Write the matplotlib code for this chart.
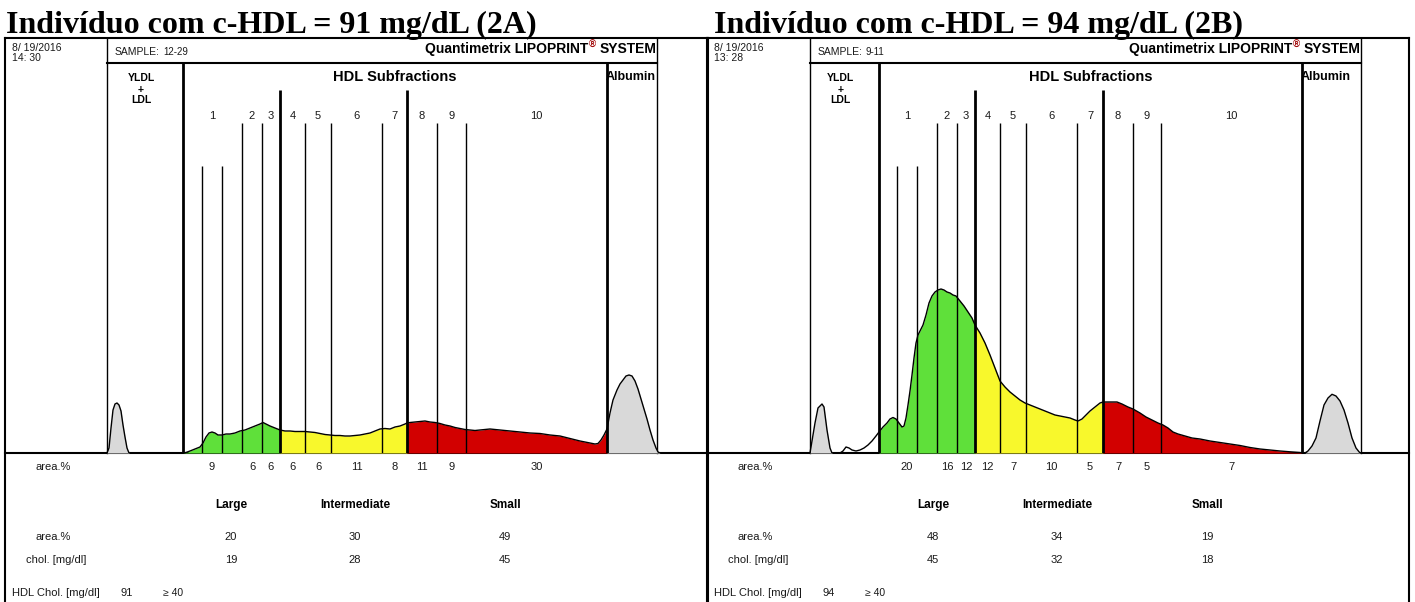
import matplotlib.pyplot as plt
from matplotlib.transforms import blended_transform_factory

W, H = 1415, 602

# Painel 2A
a_title = "Indivíduo com c-HDL = 91 mg/dL (2A)"
a_date = "8/ 19/2016\n14: 30"
a_sample = "12-29"
a_vldl_x = [102, 104, 106, 108, 110, 112, 114, 116, 118, 120, 122, 124]
a_vldl_y = [0, 5, 25, 43, 49, 50, 48, 42, 28, 16, 5, 0]
a_hdl_x = [178, 181, 185, 190, 195, 198, 201, 204, 207, 210, 213, 217, 221, 225, 230,
           235, 240, 245, 250, 255, 258, 261, 265, 270, 275, 280, 285, 290, 295, 300,
           305, 310, 315, 320, 325, 330, 335, 340, 345, 350, 355, 360, 365, 370, 375,
           380, 385, 390, 395, 400, 402, 405, 410, 415, 420, 425, 430, 435, 440, 445,
           450, 455, 460, 465, 470, 475, 480, 485, 490, 495, 505, 515, 525, 535, 545,
           555, 565, 575, 585, 590, 593, 596, 599, 602]
a_hdl_y = [0, 0.5, 2, 4, 6, 10, 16, 20, 21, 20, 18, 18, 19, 19, 20,
           22, 23, 25, 27, 29, 30.5, 29, 27, 25, 23, 22, 22, 21.5, 21.5, 21.5,
           21, 20.5, 19.5, 18.5, 18, 17.5, 17.5, 17, 17, 17.5, 18, 19, 20, 22, 24,
           24.5, 24, 26, 27, 29, 30, 30.5, 31, 31.5, 32, 31, 30.5, 29.5, 28, 27,
           25.5, 24.5, 23.5, 23, 22.5, 23, 23.5, 24, 23.5, 23, 22, 21, 20, 19.5, 18,
           17, 14.5, 12, 10, 9, 9.5, 13, 18, 24]
a_alb_x = [602, 605, 608, 612, 615, 618, 621, 624, 627, 630, 633, 636, 639, 642, 645,
           648, 651, 653, 655]
a_alb_y = [24, 40, 53, 63, 69, 73, 77, 78, 77, 72, 64, 54, 44, 34, 23, 13, 5, 1, 0]
a_bounds = [178, 197, 217, 237, 257, 275, 300, 326, 377, 402, 432, 461, 602]
a_area = [9, 6, 6, 6, 6, 11, 8, 11, 9, 30]
a_grp_area = [20, 30, 49]
a_grp_chol = [19, 28, 45]
a_hdl_chol = 91

# Painel 2B
b_title = "Indivíduo com c-HDL = 94 mg/dL (2B)"
b_date = "8/ 19/2016\n13: 28"
b_sample = "9-11"
b_vldl_x = [103, 108, 111, 115, 117, 120, 123, 125]
b_vldl_y = [0, 30, 45, 49, 46, 23, 5, 0]
b_hdl_x = [125, 133, 136, 139, 142, 145, 149, 153, 157, 161, 165, 169, 172,
           176, 180, 183, 186, 189, 192, 195, 197, 199, 201, 203, 205, 207, 209,
           211, 213, 216, 219, 222, 225, 228, 231, 234, 237, 240, 243, 246, 249,
           253, 257, 261, 265, 268,
           273, 278, 283, 288, 293, 298, 303, 308, 313, 318, 323, 328, 333, 338,
           343, 348, 353, 358, 363, 368, 371, 375, 379, 383, 388, 393, 396,
           403, 410, 415, 421, 426, 433, 439, 445, 451, 456, 461, 466, 471, 478,
           485, 493, 503, 513, 523, 533, 543, 553, 563, 573, 583, 593, 595]
b_hdl_y = [0, 0, 2, 6, 5, 3, 2, 3, 5, 8, 12, 17, 21,
           26, 30, 34, 35.5, 34, 30, 26, 27, 35, 48, 62, 78, 95, 110,
           118, 122, 128, 138, 150, 157, 161, 163, 164, 163, 161, 160, 158, 157,
           152, 147, 141, 135, 128,
           120, 110, 98, 85, 72, 66, 61, 57, 53, 50, 48, 46, 44, 42,
           40, 38, 37, 36, 35, 33, 32, 34, 38, 42, 46, 50, 51,
           51, 51, 49, 46, 44, 40, 36, 33, 30, 28, 25, 21, 19, 17,
           15, 14, 12, 10.5, 9, 7.5, 5.5, 4, 3, 2, 1.2, 0.5, 0]
b_alb_x = [598, 601, 605, 609, 613, 617, 621, 625, 629, 633, 637, 641, 645, 649, 653]
b_alb_y = [0, 2, 7, 15, 32, 48, 55, 58.7, 57, 52, 43, 30, 15, 5, 0]
b_bounds = [172, 190, 210, 230, 250, 268, 293, 319, 370, 396, 426, 454, 595]
b_area = [20, 16, 12, 12, 7, 10, 5, 7, 5, 7]
b_grp_area = [48, 34, 19]
b_grp_chol = [45, 32, 18]
b_hdl_chol = 94

subfractions = ["1", "2", "3", "4", "5", "6", "7", "8", "9", "10"]
groups = ["Large", "Intermediate", "Small"]
hdl_ref = "≥ 40"

# indices das linhas que delimitam cada subfracao e cada grupo
band_idx = [(1, 2), (3, 4), (4, 5), (5, 6), (6, 7), (7, 8), (8, 9), (9, 10), (10, 11), (11, 12)]
group_idx = [(0, 5), (5, 9), (9, 12)]
group_colors = ["#5fe03a", "#f8f82c", "#d20000"]
gray = "#d9d9d9"
line_tops = [390, 287, 287, 330, 330, 363, 330, 330, 330, 363, 330, 330, 390]
line_w = [2, 1, 1, 1, 1, 2, 1, 1, 1, 2, 1, 1, 2]

sans = "Liberation Sans"
txt = "#1a1a1a"

fig = plt.figure(figsize=(W / 100, H / 100), dpi=100, facecolor="white")
ov = fig.add_axes([0, 0, 1, 1])
ov.set_xlim(0, W)
ov.set_ylim(H, 0)
ov.axis("off")


def draw_panel(ox, title_x, date_col, box_right, frame_right, title, date, sample,
               vx, vy, hx, hy, alx, aly, bounds, area, g_area, g_chol, hdl_chol):
    # moldura e cabecalho
    ov.plot([ox, frame_right], [38, 38], color="k", lw=1.5)
    ov.plot([ox, ox], [38, 602], color="k", lw=1.5)
    ov.plot([frame_right, frame_right], [38, 602], color="k", lw=1.5)
    ov.plot([date_col, box_right], [63, 63], color="k", lw=1.5)
    ov.plot([date_col, date_col], [38, 453], color="k", lw=1)
    ov.plot([box_right, box_right], [38, 453], color="k", lw=1)
    ov.plot([ox, frame_right], [453, 453], color="k", lw=1.5)

    ov.text(title_x, 33, title, fontsize=23, family="Liberation Serif",
            weight="bold", va="baseline")
    ov.text(ox + 7, 43, date, fontsize=7.5, family=sans, color=txt, va="top",
            linespacing=0.95)
    ov.text(date_col + 8, 52, "SAMPLE:", fontsize=7.5, family=sans, color=txt, va="center")
    ov.text(date_col + 56, 52, sample, fontsize=7, family=sans, color=txt, va="center")
    t_sys = ov.text(box_right - 1, 49, "SYSTEM", fontsize=10, family=sans,
                    weight="bold", ha="right", va="center")
    t_reg = ov.annotate("®", xy=(0, 0.45), xycoords=t_sys, xytext=(-2.5, 0),
                        textcoords="offset points", fontsize=7, weight="bold",
                        family=sans, color="#a00000", ha="right", va="bottom")
    ov.annotate("Quantimetrix LIPOPRINT", xy=(0, 0), xycoords=(t_reg, t_sys),
                fontsize=10, family=sans, weight="bold", ha="right", va="bottom")

    # densitograma
    cax = fig.add_axes([ox / W, (H - 453) / H, (frame_right - ox) / W, 390 / H])
    cax.set_xlim(0, frame_right - ox)
    cax.set_ylim(0, 390)
    cax.axis("off")
    cax.patch.set_alpha(0)

    cax.fill_between(vx, vy, color=gray, lw=0)
    cax.plot(vx, vy, color="k", lw=1)
    for (i0, i1), col in zip(group_idx, group_colors):
        lo, hi = bounds[i0], bounds[i1]
        cax.fill_between(hx, hy, where=[lo <= x <= hi for x in hx], color=col, lw=0)
    cax.plot(hx, hy, color="k", lw=1)
    cax.fill_between(alx, aly, color=gray, lw=0)
    cax.plot(alx, aly, color="k", lw=1)
    cax.vlines(bounds, 0, line_tops, colors="k", linewidths=line_w)

    tr = blended_transform_factory(cax.transData, ov.transData)
    cax.text((bounds[0] + bounds[12]) / 2, 77, "HDL Subfractions", transform=tr,
             fontsize=10.5, family=sans, weight="bold", ha="center", va="center")
    cax.text(bounds[12] - 1, 77, "Albumin", transform=tr, fontsize=9, family=sans,
             weight="bold", ha="left", va="center")
    ylx = (date_col + ox + bounds[0]) / 2 - ox - 4
    for s, yy in zip(["YLDL", "+", "LDL"], [78, 90, 100]):
        cax.text(ylx, yy, s, transform=tr, fontsize=7.5, family=sans, weight="bold",
                 ha="center", va="center")
    for (i0, i1), lab, val in zip(band_idx, subfractions, area):
        xc = (bounds[i0] + bounds[i1]) / 2
        cax.text(xc, 116, lab, transform=tr, fontsize=8, family=sans, color=txt,
                 ha="center", va="center")
        cax.text(xc, 467, str(val), transform=tr, fontsize=8, family=sans, color=txt,
                 ha="center", va="center")

    # tabela
    ov.text(ox + 48, 467, "area.%", fontsize=8, family=sans, color=txt,
            ha="center", va="center")
    ov.text(ox + 48, 537, "area.%", fontsize=8, family=sans, color=txt,
            ha="center", va="center")
    ov.text(ox + 51, 560, "chol. [mg/dl]", fontsize=8, family=sans, color=txt,
            ha="center", va="center")
    for gx, g, va_, vc in zip([226, 350, 500], groups, g_area, g_chol):
        ov.text(ox + gx, 505, g, fontsize=8.5, family=sans, weight="bold",
                ha="center", va="center")
        ov.text(ox + gx, 537, str(va_), fontsize=8, family=sans, color=txt,
                ha="center", va="center")
        ov.text(ox + gx, 560, str(vc), fontsize=8, family=sans, color=txt,
                ha="center", va="center")
    ov.text(ox + 7, 593, "HDL Chol. [mg/dl]", fontsize=8, family=sans, color=txt,
            va="center")
    ov.text(ox + 122, 593, str(hdl_chol), fontsize=8, family=sans, color=txt,
            ha="center", va="center")
    ov.text(ox + 168, 593, hdl_ref, fontsize=7.5, family=sans, color=txt,
            ha="center", va="center")


draw_panel(5, 6, 107, 657, 708, a_title, a_date, a_sample,
           a_vldl_x, a_vldl_y, a_hdl_x, a_hdl_y, a_alb_x, a_alb_y,
           a_bounds, a_area, a_grp_area, a_grp_chol, a_hdl_chol)
draw_panel(707, 714, 810, 1361, 1409, b_title, b_date, b_sample,
           b_vldl_x, b_vldl_y, b_hdl_x, b_hdl_y, b_alb_x, b_alb_y,
           b_bounds, b_area, b_grp_area, b_grp_chol, b_hdl_chol)

fig.savefig("out.png", dpi=100, facecolor="white")
